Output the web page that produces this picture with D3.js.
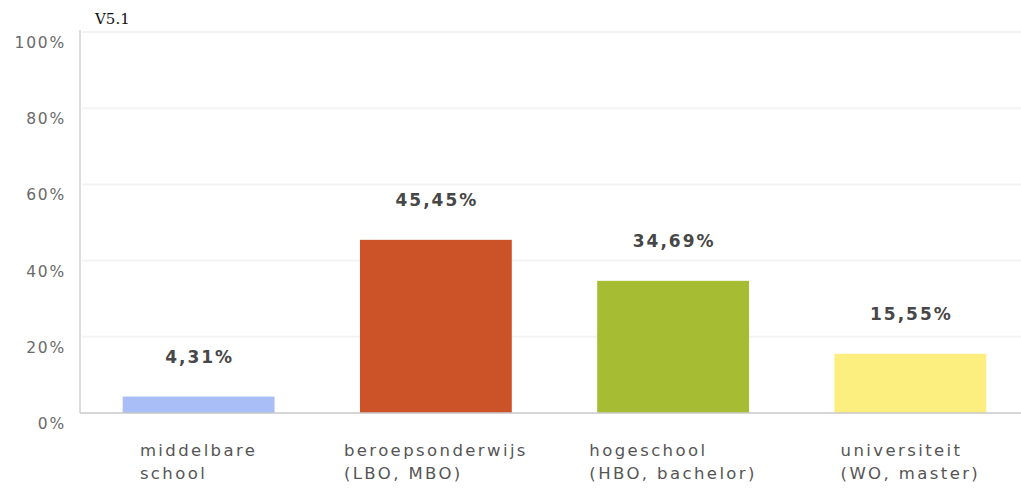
<!DOCTYPE html>
<html><head><meta charset="utf-8">
<script src="https://cdn.jsdelivr.net/npm/d3@7"></script>
<style>
html,body{margin:0;padding:0;background:#fff;}
svg{display:block;}
</style></head>
<body>
<svg id="chart" width="1021" height="489"></svg>
<script>
const categories = [
  ["middelbare", "school"],
  ["beroepsonderwijs", "(LBO, MBO)"],
  ["hogeschool", "(HBO, bachelor)"],
  ["universiteit", "(WO, master)"]
];
const values = [4.31, 45.45, 34.69, 15.55];
const valueLabels = ["4,31%", "45,45%", "34,69%", "15,55%"];
const colors = ["#a9bdf6", "#cc5228", "#a6bc32", "#fdef7f"];
const yTicks = [0, 20, 40, 60, 80, 100];
const yTickLabels = ["0%", "20%", "40%", "60%", "80%", "100%"];

const svg = d3.select("#chart");
const font = "'DejaVu Sans', 'Noto Sans', sans-serif";

const x = d3.scaleBand().domain(d3.range(categories.length)).range([80, 1029]).paddingInner(0.36).paddingOuter(0.18);
const y = d3.scaleLinear().domain([0, 100]).range([413, 32]);

// gridlines
svg.append("g").selectAll("line").data(yTicks.filter(d => d > 0)).join("line")
  .attr("x1", 82).attr("x2", 1021)
  .attr("y1", d => y(d)).attr("y2", d => y(d))
  .attr("stroke", "#f3f3f3").attr("stroke-width", 2);

// y-axis tick labels
svg.append("g").selectAll("text").data(yTicks).join("text")
  .attr("x", 66).attr("y", d => y(d) + 16)
  .attr("text-anchor", "end")
  .attr("font-family", font).attr("font-size", 15.5).attr("letter-spacing", 1.8).attr("fill", "#6a6a6a")
  .text((d, i) => yTickLabels[i]);

// bars
svg.append("g").selectAll("rect").data(values).join("rect")
  .attr("x", (d, i) => x(i)).attr("width", x.bandwidth())
  .attr("y", d => y(d)).attr("height", d => y(0) - y(d))
  .attr("fill", (d, i) => colors[i]);

// axes lines
svg.append("line").attr("x1", 80).attr("x2", 80).attr("y1", 30).attr("y2", y(0))
  .attr("stroke", "#dddddd").attr("stroke-width", 2);
svg.append("line").attr("x1", 80).attr("x2", 1021).attr("y1", y(0)).attr("y2", y(0))
  .attr("stroke", "#c8c8c8").attr("stroke-width", 1.5);

// value labels
svg.append("g").selectAll("text").data(values).join("text")
  .attr("x", (d, i) => x(i) + x.bandwidth() / 2 + 1)
  .attr("y", d => y(d) - 34)
  .attr("text-anchor", "middle")
  .attr("font-family", font).attr("font-size", 17).attr("font-weight", "bold").attr("letter-spacing", 2).attr("fill", "#474747")
  .text((d, i) => valueLabels[i]);

// category labels (left-aligned block centered under bar)
const catG = svg.append("g");
categories.forEach((lines, i) => {
  const t = catG.append("text")
    .attr("font-family", font).attr("font-size", 16.5).attr("letter-spacing", 2.4).attr("fill", "#555");
  lines.forEach((ln, j) => {
    t.append("tspan").attr("x", 0).attr("y", 456 + j * 23).text(ln);
  });
  const w = t.node().getBBox().width;
  const cx = x(i) + x.bandwidth() / 2;
  t.attr("transform", `translate(${cx - w / 2},0)`);
});

// version label
svg.append("text").attr("x", 95).attr("y", 24)
  .attr("font-family", "'DejaVu Serif', 'Liberation Serif', serif").attr("font-size", 15).attr("fill", "#111")
  .text("V5.1");
</script>
</body></html>
